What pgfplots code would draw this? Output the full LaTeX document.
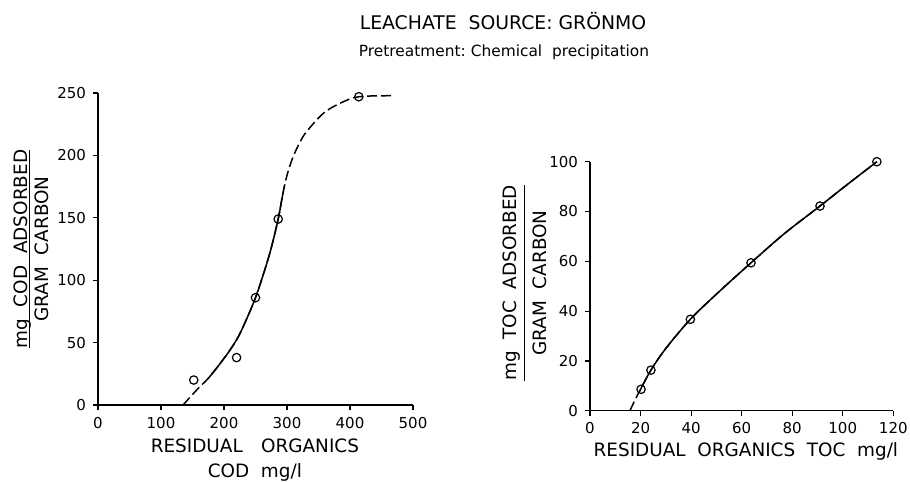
\documentclass[border=0pt]{standalone}
\usepackage{fontspec}
\setmainfont{DejaVu Sans}
\usepackage{pgfplots}
\usepackage{pgfplotstable}
\pgfplotsset{compat=1.18}

% common look of the two isotherm panels
\pgfplotsset{
  isotherm/.style={
    scale only axis,
    axis lines=left,
    axis line style={-, line width=0.6pt},
    tick align=outside,
    major tick length=2.5pt,
    tick style={black, line width=0.6pt},
    /pgf/number format/assume math mode=true,
    tick label style={font=\fontsize{7.5}{9}\selectfont},
    label style={font=\fontsize{9.2}{12.5}\selectfont},
  },
  curve/.style={black, line width=0.75pt, smooth, tension=0.55, no marks},
  dashcurve/.style={curve, dash pattern=on 5pt off 2pt},
  pts/.style={only marks, mark=o, mark size=2.1pt, mark options={solid, fill=white, line width=0.6pt}},
}

% fitted isotherm curves
\pgfplotstableread{
x y
135 0
156.6 12
175 21.4
192 32
209.5 44
223 55
236 69
250 86
262 104
274 124
286 149
293 168
300 184
309 198
320 210
331 219
357.7 233.7
384 241.7
414 247
466 247.8
}\codcurve
\pgfplotstableread{
x y
152 20
220 38
250 86
286 149
414 247
}\codpts
\pgfplotstableread{
x y
15.8 0
17.6 3.9
19.6 7.8
24.1 16.3
30 25
39.7 36.7
50 46.8
63.7 59.4
77 71.2
91 82.2
102 91
113.5 100
}\toccurve
\pgfplotstableread{
x y
20.2 8.6
24.1 16.3
39.7 36.7
63.7 59.4
91 82.2
113.5 100
}\tocpts

\begin{document}
\begin{tikzpicture}
\useasboundingbox (0,0) rectangle (455pt,-241pt);

\node[font=\fontsize{9.4}{11}\selectfont] at (251.5pt,-10.4pt) {LEACHATE\ \ SOURCE:\ GRÖNMO};
\node[font=\fontsize{7.7}{9}\selectfont] at (252pt,-26pt) {Pretreatment:\ Chemical\ \ precipitation};

% ---- COD panel
\begin{axis}[isotherm,
    at={(49pt,-202.5pt)}, anchor=south west,
    width=157.5pt, height=156pt,
    xmin=0, xmax=500, ymin=0, ymax=250,
    xtick={0,100,...,500}, ytick={0,50,...,250},
    xlabel={RESIDUAL\quad ORGANICS\\COD\ \ mg/l},
    xlabel style={align=center, at={(axis description cs:0.498,-0.175)}, anchor=center},
    ylabel={\begin{tabular}{@{}c@{}}mg\ \ COD\ \ ADSORBED\\[-3pt]\hline\rule{0pt}{9pt}GRAM\ \ CARBON\end{tabular}},
    ylabel style={at={(axis description cs:-0.206,0.5)}, anchor=center},
]
\addplot[dashcurve] table {\codcurve};
\begin{scope}
  \clip (axis cs:175,-10) rectangle (axis cs:295,260);
  \addplot[curve] table {\codcurve};
\end{scope}
\addplot[pts] table {\codpts};
\end{axis}

% ---- TOC panel
\begin{axis}[isotherm,
    at={(295pt,-205.35pt)}, anchor=south west,
    width=151.65pt, height=124.5pt,
    xmin=0, xmax=120, ymin=0, ymax=100,
    xtick={0,20,...,120}, ytick={0,20,...,100},
    xlabel={RESIDUAL\ \ ORGANICS\ \ TOC\ \ mg/l},
    xlabel style={at={(axis description cs:0.514,-0.165)}, anchor=center},
    ylabel={\begin{tabular}{@{}c@{}}mg\ \ TOC\ \ ADSORBED\\[0pt]\hline\rule{0pt}{11pt}GRAM\ \ CARBON\end{tabular}},
    ylabel style={at={(axis description cs:-0.209,0.513)}, anchor=center},
]
\addplot[dashcurve] table {\toccurve};
\begin{scope}
  \clip (axis cs:19.6,-10) rectangle (axis cs:125,110);
  \addplot[curve] table {\toccurve};
\end{scope}
\addplot[pts] table {\tocpts};
\end{axis}
\end{tikzpicture}
\end{document}
